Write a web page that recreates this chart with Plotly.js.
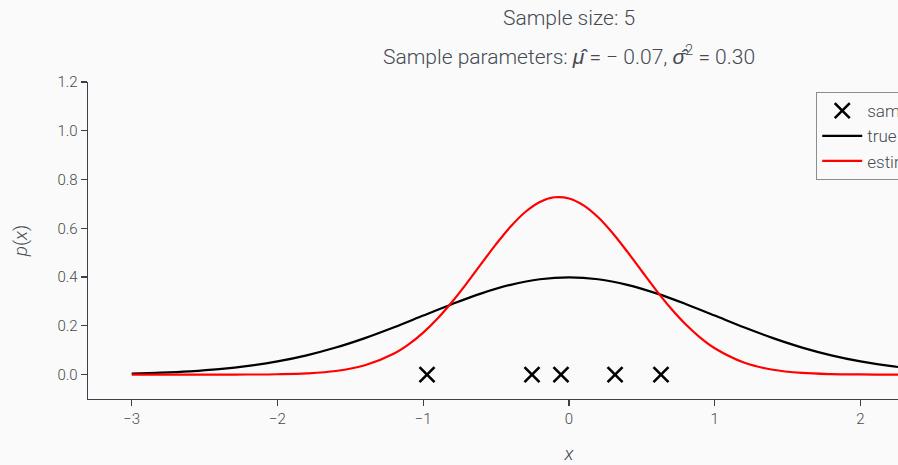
<!DOCTYPE html>
<html>
<head>
<meta charset="utf-8">
<script src="https://cdn.plot.ly/plotly-3.0.1.min.js"></script>
<style>
html,body{margin:0;padding:0;background:#fafafa;overflow:hidden;width:898px;height:465px;}
#chart{width:1140px;height:465px;}
</style>
</head>
<body>
<div id="chart"></div>
<script>
// Sample points (drawn at p = 0)
const sampleX = [-0.974, -0.254, -0.055, 0.316, 0.631];
const sampleY = [0, 0, 0, 0, 0];

// True distribution curve
const trueX = [-3.0,-2.8,-2.6,-2.4,-2.2,-2.0,-1.8,-1.6,-1.4,-1.2,-1.0,-0.8,-0.6,-0.4,-0.2,0.0,
               0.2,0.4,0.6,0.8,1.0,1.2,1.4,1.6,1.8,2.0,2.2,2.4,2.6,2.8,3.0];
const trueY = [0.0044,0.0079,0.0136,0.0224,0.0355,0.0540,0.0790,0.1109,0.1497,0.1942,0.2420,0.2897,0.3332,0.3683,0.3910,0.3989,
               0.3910,0.3683,0.3332,0.2897,0.2420,0.1942,0.1497,0.1109,0.0790,0.0540,0.0355,0.0224,0.0136,0.0079,0.0044];

// Estimated distribution curve
const estX = [-3.0,-2.8,-2.6,-2.4,-2.2,-2.0,-1.8,-1.6,-1.4,-1.2,-1.1,-1.0,-0.9,-0.8,-0.7,-0.6,-0.5,-0.4,-0.3,-0.2,-0.1,0.0,
              0.1,0.2,0.3,0.4,0.5,0.6,0.7,0.8,0.9,1.0,1.2,1.4,1.6,1.8,2.0,2.2,2.4,2.6,2.8,3.0];
const estY = [0.0000,0.0000,0.0000,0.0001,0.0004,0.0015,0.0050,0.0147,0.0382,0.0868,0.1243,0.1723,0.2311,0.2997,0.3759,0.4561,0.5352,0.6075,0.6669,0.7082,0.7273,0.7225,
              0.6942,0.6451,0.5798,0.5041,0.4239,0.3447,0.2711,0.2063,0.1518,0.1081,0.0496,0.0199,0.0070,0.0021,0.0006,0.0001,0.0000,0.0000,0.0000,0.0000];

const xTicks = [-3, -2, -1, 0, 1, 2, 3];
const xTickText = ['\u22123', '\u22122', '\u22121', '0', '1', '2', '3'];
const yTicks = [0.0, 0.2, 0.4, 0.6, 0.8, 1.0, 1.2];
const yTickText = ['0.0', '0.2', '0.4', '0.6', '0.8', '1.0', '1.2'];
const legendNames = ['samples', 'true distribution', 'estimated distribution'];
const titleLine1 = 'Sample size: 5';
const titleLine2 = 'Sample parameters: <i>\u03bc\u0302</i> = \u2212 0.07, <i>\u03c3\u0302</i><sup>2</sup> = 0.30';

const textColor = '#454a52';
const axisColor = '#3a414b';
const fontFam = 'Roboto, "Liberation Sans", sans-serif';

const traces = [
  {x: sampleX, y: sampleY, type: 'scatter', mode: 'markers', name: legendNames[0],
   marker: {symbol: 'x-thin', size: 15, color: '#000', line: {width: 2.6, color: '#000'}}},
  {x: trueX, y: trueY, type: 'scatter', mode: 'lines', name: legendNames[1],
   line: {color: '#000', width: 2.2, shape: 'spline'}},
  {x: estX, y: estY, type: 'scatter', mode: 'lines', name: legendNames[2],
   line: {color: '#ff0000', width: 2.2, shape: 'spline'}}
];

const layout = {
  width: 1140, height: 465,
  paper_bgcolor: '#fafafa', plot_bgcolor: '#fafafa',
  font: {family: fontFam, color: textColor, size: 15, weight: 300},
  margin: {l: 88, r: 90, t: 82, b: 66},
  title: {
    text: titleLine1,
    font: {size: 21, color: textColor, family: fontFam, weight: 300},
    x: 0.5, xref: 'paper', xanchor: 'center',
    y: 0.963, yref: 'container', yanchor: 'middle'
  },
  annotations: [{
    text: titleLine2, showarrow: false,
    xref: 'paper', x: 0.5, xanchor: 'center',
    yref: 'paper', y: 1.085, yanchor: 'middle',
    font: {size: 21, color: textColor, family: fontFam, weight: 300}
  }],
  xaxis: {
    range: [-3.3, 3.3], tickvals: xTicks, ticktext: xTickText,
    showgrid: false, zeroline: false, showline: true, linecolor: axisColor, linewidth: 1.3,
    ticks: 'outside', ticklen: 6, tickcolor: axisColor, tickwidth: 1.2,
    tickfont: {size: 15, color: textColor},
    title: {text: '<i>x</i>', font: {size: 19, color: textColor}, standoff: 20}
  },
  yaxis: {
    range: [-0.1, 1.2], tickvals: yTicks, ticktext: yTickText,
    showgrid: false, zeroline: false, showline: true, linecolor: axisColor, linewidth: 1.3,
    ticks: 'outside', ticklen: 6, tickcolor: axisColor, tickwidth: 1.2,
    tickfont: {size: 15, color: textColor},
    title: {text: '<i>p</i>(<i>x</i>)', font: {size: 19, color: textColor}, standoff: 24}
  },
  showlegend: true,
  legend: {
    x: 0.757, xanchor: 'left', y: 0.968, yanchor: 'top',
    bgcolor: '#fafafa', bordercolor: '#8a8d92', borderwidth: 1,
    font: {size: 17, color: textColor}, tracegroupgap: 4, itemwidth: 40
  }
};

Plotly.newPlot('chart', traces, layout, {displayModeBar: false, staticPlot: true});
</script>
</body>
</html>
